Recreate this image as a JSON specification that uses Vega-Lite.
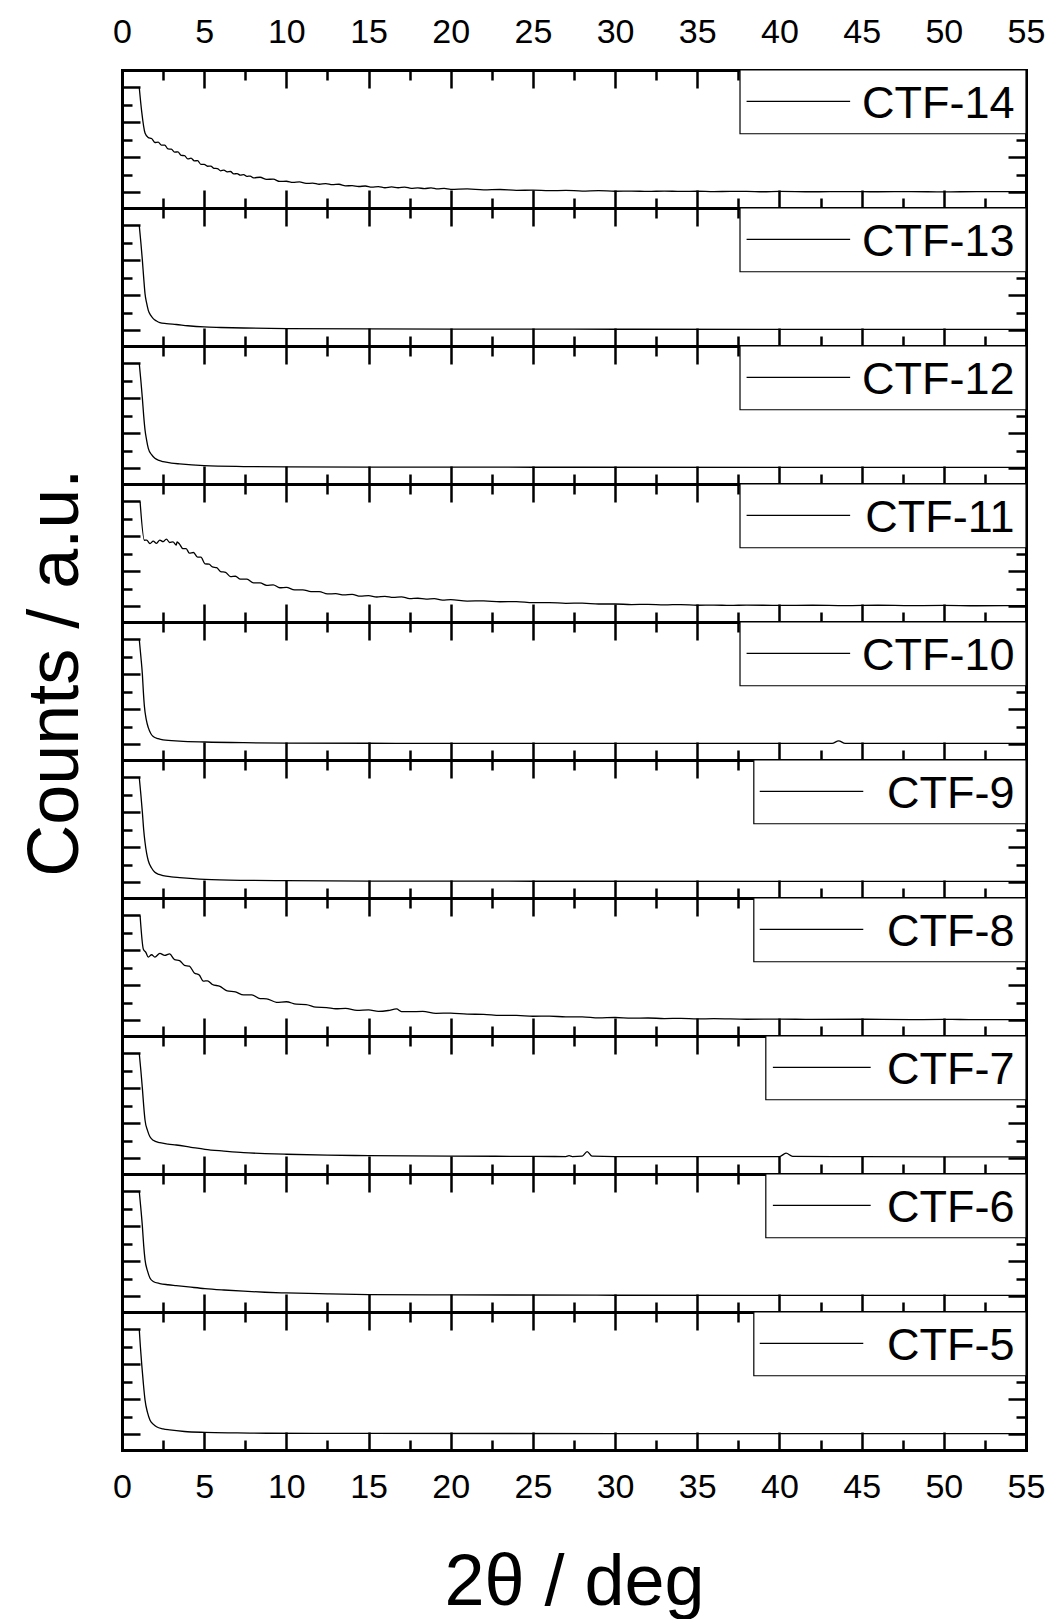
{
"$schema": "https://vega.github.io/schema/vega-lite/v6.json",
"background": "white",
"padding": {"left": 19, "top": 7, "right": 5, "bottom": 0},
"bounds": "flush",
"spacing": 0,
"title": {"text": "Counts / a.u.", "orient": "left", "anchor": "middle", "font": "Liberation Sans", "fontSize": 72, "fontWeight": "normal", "color": "black", "offset": 20, "dx": 140},
"datasets": {"xrd": [
{"s":"CTF-14","x":1.05,"y":6},{"s":"CTF-14","x":1.2,"y":4.6},{"s":"CTF-14","x":1.4,"y":3.39},{"s":"CTF-14","x":1.6,"y":3.13},{"s":"CTF-14","x":1.8,"y":3.08},{"s":"CTF-14","x":2.0,"y":2.85},{"s":"CTF-14","x":2.2,"y":2.87},{"s":"CTF-14","x":2.4,"y":2.70},{"s":"CTF-14","x":2.6,"y":2.70},{"s":"CTF-14","x":2.8,"y":2.48},{"s":"CTF-14","x":3.0,"y":2.47},{"s":"CTF-14","x":3.2,"y":2.30},{"s":"CTF-14","x":3.4,"y":2.31},{"s":"CTF-14","x":3.6,"y":2.11},{"s":"CTF-14","x":3.8,"y":2.10},{"s":"CTF-14","x":4.0,"y":1.91},{"s":"CTF-14","x":4.2,"y":1.95},{"s":"CTF-14","x":4.4,"y":1.80},{"s":"CTF-14","x":4.6,"y":1.81},{"s":"CTF-14","x":4.8,"y":1.60},{"s":"CTF-14","x":5.0,"y":1.60},{"s":"CTF-14","x":5.2,"y":1.49},{"s":"CTF-14","x":5.4,"y":1.50},{"s":"CTF-14","x":5.6,"y":1.37},{"s":"CTF-14","x":5.8,"y":1.36},{"s":"CTF-14","x":6.0,"y":1.23},{"s":"CTF-14","x":6.2,"y":1.27},{"s":"CTF-14","x":6.4,"y":1.17},{"s":"CTF-14","x":6.6,"y":1.19},{"s":"CTF-14","x":6.8,"y":1.05},{"s":"CTF-14","x":7.0,"y":1.07},{"s":"CTF-14","x":7.2,"y":0.98},{"s":"CTF-14","x":7.4,"y":1.01},{"s":"CTF-14","x":7.6,"y":0.91},{"s":"CTF-14","x":7.8,"y":0.93},{"s":"CTF-14","x":8.0,"y":0.83},{"s":"CTF-14","x":8.4,"y":0.86},{"s":"CTF-14","x":8.8,"y":0.74},{"s":"CTF-14","x":9.2,"y":0.75},{"s":"CTF-14","x":9.6,"y":0.62},{"s":"CTF-14","x":10.0,"y":0.63},{"s":"CTF-14","x":10.4,"y":0.57},{"s":"CTF-14","x":10.8,"y":0.59},{"s":"CTF-14","x":11.2,"y":0.51},{"s":"CTF-14","x":11.6,"y":0.52},{"s":"CTF-14","x":12.0,"y":0.46},{"s":"CTF-14","x":12.4,"y":0.50},{"s":"CTF-14","x":12.8,"y":0.44},{"s":"CTF-14","x":13.2,"y":0.46},{"s":"CTF-14","x":13.6,"y":0.37},{"s":"CTF-14","x":14.0,"y":0.38},{"s":"CTF-14","x":14.4,"y":0.33},{"s":"CTF-14","x":14.8,"y":0.36},{"s":"CTF-14","x":15.2,"y":0.30},{"s":"CTF-14","x":15.6,"y":0.32},{"s":"CTF-14","x":16.0,"y":0.26},{"s":"CTF-14","x":16.4,"y":0.31},{"s":"CTF-14","x":16.8,"y":0.26},{"s":"CTF-14","x":17.2,"y":0.30},{"s":"CTF-14","x":17.6,"y":0.22},{"s":"CTF-14","x":18.0,"y":0.25},{"s":"CTF-14","x":18.4,"y":0.21},{"s":"CTF-14","x":18.8,"y":0.25},{"s":"CTF-14","x":19.2,"y":0.19},{"s":"CTF-14","x":19.6,"y":0.22},{"s":"CTF-14","x":20,"y":0.17},{"s":"CTF-14","x":21,"y":0.19},{"s":"CTF-14","x":22,"y":0.14},{"s":"CTF-14","x":23,"y":0.16},{"s":"CTF-14","x":24,"y":0.11},{"s":"CTF-14","x":25,"y":0.12},{"s":"CTF-14","x":26,"y":0.09},{"s":"CTF-14","x":27,"y":0.11},{"s":"CTF-14","x":28,"y":0.07},{"s":"CTF-14","x":29,"y":0.09},{"s":"CTF-14","x":30,"y":0.06},{"s":"CTF-14","x":31,"y":0.07},{"s":"CTF-14","x":32,"y":0.05},{"s":"CTF-14","x":33,"y":0.07},{"s":"CTF-14","x":34,"y":0.05},{"s":"CTF-14","x":35,"y":0.06},{"s":"CTF-14","x":36,"y":0.04},{"s":"CTF-14","x":37,"y":0.05},{"s":"CTF-14","x":38,"y":0.05},{"s":"CTF-14","x":39,"y":0.03},{"s":"CTF-14","x":40,"y":0.05},{"s":"CTF-14","x":42,"y":0.03},{"s":"CTF-14","x":44,"y":0.04},{"s":"CTF-14","x":46,"y":0.03},{"s":"CTF-14","x":48,"y":0.04},{"s":"CTF-14","x":50,"y":0.02},{"s":"CTF-14","x":52,"y":0.04},{"s":"CTF-14","x":55,"y":0.03},
{"s":"CTF-13","x":1.05,"y":6},{"s":"CTF-13","x":1.15,"y":5.0},{"s":"CTF-13","x":1.24,"y":4.0},{"s":"CTF-13","x":1.32,"y":3.0},{"s":"CTF-13","x":1.4,"y":2.1},{"s":"CTF-13","x":1.5,"y":1.55},{"s":"CTF-13","x":1.6,"y":1.14},{"s":"CTF-13","x":1.75,"y":0.85},{"s":"CTF-13","x":1.9,"y":0.67},{"s":"CTF-13","x":2.1,"y":0.53},{"s":"CTF-13","x":2.3,"y":0.44},{"s":"CTF-13","x":2.7,"y":0.38},{"s":"CTF-13","x":3.3,"y":0.33},{"s":"CTF-13","x":4.0,"y":0.26},{"s":"CTF-13","x":5.0,"y":0.19},{"s":"CTF-13","x":6,"y":0.16},{"s":"CTF-13","x":7.4,"y":0.13},{"s":"CTF-13","x":10,"y":0.1},{"s":"CTF-13","x":15,"y":0.08},{"s":"CTF-13","x":20,"y":0.07},{"s":"CTF-13","x":30,"y":0.06},{"s":"CTF-13","x":40,"y":0.05},{"s":"CTF-13","x":55,"y":0.05},
{"s":"CTF-12","x":1.05,"y":6},{"s":"CTF-12","x":1.15,"y":5.0},{"s":"CTF-12","x":1.24,"y":4.0},{"s":"CTF-12","x":1.32,"y":3.0},{"s":"CTF-12","x":1.4,"y":2.2},{"s":"CTF-12","x":1.5,"y":1.6},{"s":"CTF-12","x":1.6,"y":1.14},{"s":"CTF-12","x":1.8,"y":0.78},{"s":"CTF-12","x":2.0,"y":0.57},{"s":"CTF-12","x":2.25,"y":0.45},{"s":"CTF-12","x":2.5,"y":0.38},{"s":"CTF-12","x":3.0,"y":0.3},{"s":"CTF-12","x":3.5,"y":0.25},{"s":"CTF-12","x":5,"y":0.15},{"s":"CTF-12","x":7.4,"y":0.1},{"s":"CTF-12","x":10,"y":0.08},{"s":"CTF-12","x":15,"y":0.07},{"s":"CTF-12","x":25,"y":0.06},{"s":"CTF-12","x":40,"y":0.05},{"s":"CTF-12","x":55,"y":0.05},
{"s":"CTF-11","x":1.1,"y":6},{"s":"CTF-11","x":1.36,"y":3.78},{"s":"CTF-11","x":1.5,"y":3.79},{"s":"CTF-11","x":1.7,"y":3.59},{"s":"CTF-11","x":1.9,"y":3.73},{"s":"CTF-11","x":2.1,"y":3.60},{"s":"CTF-11","x":2.3,"y":3.79},{"s":"CTF-11","x":2.5,"y":3.70},{"s":"CTF-11","x":2.7,"y":3.85},{"s":"CTF-11","x":2.9,"y":3.65},{"s":"CTF-11","x":3.1,"y":3.69},{"s":"CTF-11","x":3.3,"y":3.50},{"s":"CTF-11","x":3.35,"y":3.68},{"s":"CTF-11","x":3.5,"y":3.56},{"s":"CTF-11","x":3.7,"y":3.30},{"s":"CTF-11","x":3.9,"y":3.30},{"s":"CTF-11","x":4.1,"y":3.04},{"s":"CTF-11","x":4.35,"y":3.08},{"s":"CTF-11","x":4.6,"y":2.81},{"s":"CTF-11","x":4.8,"y":2.81},{"s":"CTF-11","x":5.05,"y":2.43},{"s":"CTF-11","x":5.3,"y":2.41},{"s":"CTF-11","x":5.5,"y":2.25},{"s":"CTF-11","x":5.76,"y":2.21},{"s":"CTF-11","x":6.0,"y":1.99},{"s":"CTF-11","x":6.3,"y":1.94},{"s":"CTF-11","x":6.6,"y":1.70},{"s":"CTF-11","x":6.9,"y":1.72},{"s":"CTF-11","x":7.2,"y":1.56},{"s":"CTF-11","x":7.6,"y":1.55},{"s":"CTF-11","x":8.0,"y":1.34},{"s":"CTF-11","x":8.4,"y":1.34},{"s":"CTF-11","x":8.8,"y":1.20},{"s":"CTF-11","x":9.2,"y":1.23},{"s":"CTF-11","x":9.6,"y":1.06},{"s":"CTF-11","x":10.0,"y":1.08},{"s":"CTF-11","x":10.5,"y":0.94},{"s":"CTF-11","x":11.0,"y":0.94},{"s":"CTF-11","x":11.5,"y":0.84},{"s":"CTF-11","x":12,"y":0.84},{"s":"CTF-11","x":12.5,"y":0.71},{"s":"CTF-11","x":13,"y":0.72},{"s":"CTF-11","x":13.5,"y":0.65},{"s":"CTF-11","x":14,"y":0.68},{"s":"CTF-11","x":14.5,"y":0.58},{"s":"CTF-11","x":15,"y":0.61},{"s":"CTF-11","x":15.5,"y":0.53},{"s":"CTF-11","x":16,"y":0.57},{"s":"CTF-11","x":16.5,"y":0.51},{"s":"CTF-11","x":17,"y":0.54},{"s":"CTF-11","x":17.5,"y":0.44},{"s":"CTF-11","x":18,"y":0.46},{"s":"CTF-11","x":18.5,"y":0.41},{"s":"CTF-11","x":19,"y":0.44},{"s":"CTF-11","x":19.5,"y":0.35},{"s":"CTF-11","x":20,"y":0.38},{"s":"CTF-11","x":21,"y":0.30},{"s":"CTF-11","x":22,"y":0.31},{"s":"CTF-11","x":23,"y":0.26},{"s":"CTF-11","x":24,"y":0.27},{"s":"CTF-11","x":25,"y":0.21},{"s":"CTF-11","x":26,"y":0.21},{"s":"CTF-11","x":27,"y":0.17},{"s":"CTF-11","x":28,"y":0.18},{"s":"CTF-11","x":29,"y":0.13},{"s":"CTF-11","x":30,"y":0.13},{"s":"CTF-11","x":31,"y":0.10},{"s":"CTF-11","x":32,"y":0.11},{"s":"CTF-11","x":33,"y":0.08},{"s":"CTF-11","x":34,"y":0.10},{"s":"CTF-11","x":35,"y":0.06},{"s":"CTF-11","x":36,"y":0.07},{"s":"CTF-11","x":37,"y":0.05},{"s":"CTF-11","x":38,"y":0.07},{"s":"CTF-11","x":40,"y":0.05},{"s":"CTF-11","x":42,"y":0.06},{"s":"CTF-11","x":44,"y":0.04},{"s":"CTF-11","x":46,"y":0.06},{"s":"CTF-11","x":48,"y":0.04},{"s":"CTF-11","x":50,"y":0.05},{"s":"CTF-11","x":52,"y":0.03},{"s":"CTF-11","x":55,"y":0.04},
{"s":"CTF-10","x":1.05,"y":6},{"s":"CTF-10","x":1.15,"y":5},{"s":"CTF-10","x":1.24,"y":4},{"s":"CTF-10","x":1.3,"y":3.0},{"s":"CTF-10","x":1.36,"y":2.2},{"s":"CTF-10","x":1.48,"y":1.4},{"s":"CTF-10","x":1.6,"y":0.95},{"s":"CTF-10","x":1.75,"y":0.62},{"s":"CTF-10","x":1.9,"y":0.44},{"s":"CTF-10","x":2.2,"y":0.32},{"s":"CTF-10","x":2.5,"y":0.25},{"s":"CTF-10","x":3.5,"y":0.18},{"s":"CTF-10","x":5.05,"y":0.13},{"s":"CTF-10","x":7.4,"y":0.09},{"s":"CTF-10","x":10,"y":0.07},{"s":"CTF-10","x":15,"y":0.06},{"s":"CTF-10","x":20,"y":0.05},{"s":"CTF-10","x":30,"y":0.05},{"s":"CTF-10","x":43.2,"y":0.05},{"s":"CTF-10","x":43.6,"y":0.2},{"s":"CTF-10","x":44.0,"y":0.05},{"s":"CTF-10","x":55,"y":0.05},
{"s":"CTF-9","x":1.05,"y":6},{"s":"CTF-9","x":1.15,"y":5},{"s":"CTF-9","x":1.24,"y":4},{"s":"CTF-9","x":1.32,"y":3.0},{"s":"CTF-9","x":1.4,"y":2.29},{"s":"CTF-9","x":1.5,"y":1.65},{"s":"CTF-9","x":1.6,"y":1.23},{"s":"CTF-9","x":1.8,"y":0.82},{"s":"CTF-9","x":2.0,"y":0.57},{"s":"CTF-9","x":2.25,"y":0.45},{"s":"CTF-9","x":2.5,"y":0.38},{"s":"CTF-9","x":3.0,"y":0.31},{"s":"CTF-9","x":3.5,"y":0.27},{"s":"CTF-9","x":5.05,"y":0.17},{"s":"CTF-9","x":7.4,"y":0.11},{"s":"CTF-9","x":10,"y":0.09},{"s":"CTF-9","x":15,"y":0.07},{"s":"CTF-9","x":25,"y":0.06},{"s":"CTF-9","x":40,"y":0.05},{"s":"CTF-9","x":55,"y":0.05},
{"s":"CTF-8","x":1.1,"y":6},{"s":"CTF-8","x":1.3,"y":4.07},{"s":"CTF-8","x":1.45,"y":3.89},{"s":"CTF-8","x":1.6,"y":3.62},{"s":"CTF-8","x":1.8,"y":3.75},{"s":"CTF-8","x":2.0,"y":3.62},{"s":"CTF-8","x":2.3,"y":3.83},{"s":"CTF-8","x":2.6,"y":3.71},{"s":"CTF-8","x":2.9,"y":3.80},{"s":"CTF-8","x":3.2,"y":3.47},{"s":"CTF-8","x":3.5,"y":3.42},{"s":"CTF-8","x":3.8,"y":3.14},{"s":"CTF-8","x":4.1,"y":3.10},{"s":"CTF-8","x":4.4,"y":2.71},{"s":"CTF-8","x":4.7,"y":2.59},{"s":"CTF-8","x":4.95,"y":2.24},{"s":"CTF-8","x":5.2,"y":2.26},{"s":"CTF-8","x":5.5,"y":2.05},{"s":"CTF-8","x":5.96,"y":1.94},{"s":"CTF-8","x":6.4,"y":1.68},{"s":"CTF-8","x":6.9,"y":1.62},{"s":"CTF-8","x":7.4,"y":1.45},{"s":"CTF-8","x":7.9,"y":1.45},{"s":"CTF-8","x":8.4,"y":1.24},{"s":"CTF-8","x":8.8,"y":1.23},{"s":"CTF-8","x":9.4,"y":1.03},{"s":"CTF-8","x":10.0,"y":1.06},{"s":"CTF-8","x":10.6,"y":0.92},{"s":"CTF-8","x":11.2,"y":0.90},{"s":"CTF-8","x":11.8,"y":0.75},{"s":"CTF-8","x":12.45,"y":0.73},{"s":"CTF-8","x":13,"y":0.66},{"s":"CTF-8","x":13.6,"y":0.68},{"s":"CTF-8","x":14.3,"y":0.57},{"s":"CTF-8","x":15,"y":0.59},{"s":"CTF-8","x":15.6,"y":0.51},{"s":"CTF-8","x":16.2,"y":0.56},{"s":"CTF-8","x":16.7,"y":0.65},{"s":"CTF-8","x":17.0,"y":0.50},{"s":"CTF-8","x":17.5,"y":0.49},{"s":"CTF-8","x":18.3,"y":0.51},{"s":"CTF-8","x":19.1,"y":0.40},{"s":"CTF-8","x":20,"y":0.41},{"s":"CTF-8","x":21,"y":0.35},{"s":"CTF-8","x":22,"y":0.34},{"s":"CTF-8","x":23,"y":0.28},{"s":"CTF-8","x":24,"y":0.28},{"s":"CTF-8","x":25,"y":0.23},{"s":"CTF-8","x":26,"y":0.24},{"s":"CTF-8","x":27,"y":0.19},{"s":"CTF-8","x":28,"y":0.20},{"s":"CTF-8","x":29,"y":0.14},{"s":"CTF-8","x":30,"y":0.16},{"s":"CTF-8","x":31,"y":0.12},{"s":"CTF-8","x":32,"y":0.13},{"s":"CTF-8","x":33,"y":0.10},{"s":"CTF-8","x":34,"y":0.11},{"s":"CTF-8","x":35,"y":0.08},{"s":"CTF-8","x":36,"y":0.09},{"s":"CTF-8","x":38,"y":0.06},{"s":"CTF-8","x":40,"y":0.07},{"s":"CTF-8","x":42,"y":0.05},{"s":"CTF-8","x":45,"y":0.06},{"s":"CTF-8","x":48,"y":0.04},{"s":"CTF-8","x":50,"y":0.05},{"s":"CTF-8","x":52,"y":0.04},{"s":"CTF-8","x":55,"y":0.04},
{"s":"CTF-7","x":1.05,"y":6},{"s":"CTF-7","x":1.15,"y":5},{"s":"CTF-7","x":1.24,"y":4},{"s":"CTF-7","x":1.32,"y":3.0},{"s":"CTF-7","x":1.4,"y":2.19},{"s":"CTF-7","x":1.55,"y":1.6},{"s":"CTF-7","x":1.7,"y":1.23},{"s":"CTF-7","x":1.9,"y":1.03},{"s":"CTF-7","x":2.3,"y":0.89},{"s":"CTF-7","x":2.8,"y":0.81},{"s":"CTF-7","x":3.3,"y":0.76},{"s":"CTF-7","x":4.2,"y":0.63},{"s":"CTF-7","x":5.05,"y":0.51},{"s":"CTF-7","x":6.2,"y":0.41},{"s":"CTF-7","x":7.4,"y":0.32},{"s":"CTF-7","x":8.7,"y":0.27},{"s":"CTF-7","x":10,"y":0.23},{"s":"CTF-7","x":12.5,"y":0.18},{"s":"CTF-7","x":15,"y":0.15},{"s":"CTF-7","x":20,"y":0.12},{"s":"CTF-7","x":25,"y":0.11},{"s":"CTF-7","x":27.0,"y":0.1},{"s":"CTF-7","x":27.2,"y":0.15},{"s":"CTF-7","x":27.4,"y":0.1},{"s":"CTF-7","x":28.0,"y":0.12},{"s":"CTF-7","x":28.3,"y":0.38},{"s":"CTF-7","x":28.6,"y":0.12},{"s":"CTF-7","x":30,"y":0.1},{"s":"CTF-7","x":35,"y":0.1},{"s":"CTF-7","x":40,"y":0.1},{"s":"CTF-7","x":40.4,"y":0.29},{"s":"CTF-7","x":40.8,"y":0.11},{"s":"CTF-7","x":45,"y":0.09},{"s":"CTF-7","x":50,"y":0.08},{"s":"CTF-7","x":55,"y":0.08},
{"s":"CTF-6","x":1.05,"y":6},{"s":"CTF-6","x":1.15,"y":5},{"s":"CTF-6","x":1.24,"y":4},{"s":"CTF-6","x":1.32,"y":2.9},{"s":"CTF-6","x":1.4,"y":2.1},{"s":"CTF-6","x":1.55,"y":1.45},{"s":"CTF-6","x":1.7,"y":1.05},{"s":"CTF-6","x":1.9,"y":0.85},{"s":"CTF-6","x":2.3,"y":0.73},{"s":"CTF-6","x":2.8,"y":0.66},{"s":"CTF-6","x":3.3,"y":0.61},{"s":"CTF-6","x":4.2,"y":0.52},{"s":"CTF-6","x":5.05,"y":0.44},{"s":"CTF-6","x":6.2,"y":0.36},{"s":"CTF-6","x":7.4,"y":0.29},{"s":"CTF-6","x":8.7,"y":0.23},{"s":"CTF-6","x":10,"y":0.19},{"s":"CTF-6","x":12.5,"y":0.14},{"s":"CTF-6","x":15,"y":0.1},{"s":"CTF-6","x":20,"y":0.08},{"s":"CTF-6","x":30,"y":0.06},{"s":"CTF-6","x":40,"y":0.05},{"s":"CTF-6","x":55,"y":0.05},
{"s":"CTF-5","x":1.05,"y":6},{"s":"CTF-5","x":1.12,"y":5},{"s":"CTF-5","x":1.2,"y":4},{"s":"CTF-5","x":1.3,"y":2.9},{"s":"CTF-5","x":1.4,"y":1.97},{"s":"CTF-5","x":1.55,"y":1.25},{"s":"CTF-5","x":1.7,"y":0.82},{"s":"CTF-5","x":1.9,"y":0.58},{"s":"CTF-5","x":2.1,"y":0.43},{"s":"CTF-5","x":2.5,"y":0.31},{"s":"CTF-5","x":2.9,"y":0.25},{"s":"CTF-5","x":3.8,"y":0.16},{"s":"CTF-5","x":5.05,"y":0.11},{"s":"CTF-5","x":7,"y":0.08},{"s":"CTF-5","x":8.8,"y":0.06},{"s":"CTF-5","x":15,"y":0.05},{"s":"CTF-5","x":30,"y":0.04},{"s":"CTF-5","x":55,"y":0.04}
]},
"vconcat": [
{"width":904,"height":138,"layer":[
 {"data":{"name":"xrd"},"transform":[{"filter":"datum.s === 'CTF-14'"}],"mark":{"type":"line","color":"black","strokeWidth":1.3,"clip":true,"interpolate":"monotone"},
  "encoding":{"x":{"field":"x","type":"quantitative","scale":{"domain":[0,55],"nice":false,"zero":false},"axis":{"orient":"bottom","values":[0,2.5,5,7.5,10,12.5,15,17.5,20,22.5,25,27.5,30,32.5,35,37.5,40,42.5,45,47.5,50,52.5,55],"labels":false,"title":null,"tickSize":{"condition":{"test":"datum.value % 5 === 0","value":-18},"value":-10}}},
   "y":{"field":"y","type":"quantitative","scale":{"domain":[-0.9,7],"nice":false,"zero":false},"axis":{"orient":"left","values":[0,1,2,3,4,5,6],"labels":false,"title":null,"tickSize":{"condition":{"test":"datum.value % 2 === 0","value":-18},"value":-10}}}}},
 {"data":{"name":"xrd"},"transform":[{"filter":"datum.s === 'CTF-14'"}],"mark":{"type":"line","opacity":0},
  "encoding":{"x":{"field":"x","type":"quantitative","axis":{"orient":"top","values":[0,2.5,5,7.5,10,12.5,15,17.5,20,22.5,25,27.5,30,32.5,35,37.5,40,42.5,45,47.5,50,52.5,55],"labels":true,"labelExpr":"datum.value % 5 === 0 ? datum.label : ''","title":null,"tickSize":{"condition":{"test":"datum.value % 5 === 0","value":-18},"value":-10}}},
   "y":{"field":"y","type":"quantitative","axis":{"orient":"right","values":[0,1,2,3,4,5,6],"labels":false,"title":null,"tickSize":{"condition":{"test":"datum.value % 2 === 0","value":-18},"value":-10}}}}},
 {"data":{"values":[{"s":"CTF-14"}]},"layer":[
  {"mark":{"type":"rect","fill":"white","stroke":"black","strokeWidth":1.2},"encoding":{"x":{"datum":37.6,"type":"quantitative","axis":null},"x2":{"datum":55},"y":{"datum":7,"type":"quantitative","axis":null},"y2":{"datum":3.35}}},
  {"mark":{"type":"rule","color":"black","strokeWidth":1.2},"encoding":{"x":{"datum":38.0,"type":"quantitative","axis":null},"x2":{"datum":44.3},"y":{"datum":5.2,"type":"quantitative","axis":null}}},
  {"mark":{"type":"text","align":"right","baseline":"alphabetic","fontSize":45,"font":"Liberation Sans","color":"black"},"encoding":{"x":{"datum":54.3,"type":"quantitative","axis":null},"y":{"datum":4.28,"type":"quantitative","axis":null},"text":{"field":"s"}}}
 ]}
],"resolve":{"axis":{"x":"independent","y":"independent"}}},
{"width":904,"height":138,"layer":[
 {"data":{"name":"xrd"},"transform":[{"filter":"datum.s === 'CTF-13'"}],"mark":{"type":"line","color":"black","strokeWidth":1.3,"clip":true,"interpolate":"monotone"},
  "encoding":{"x":{"field":"x","type":"quantitative","scale":{"domain":[0,55],"nice":false,"zero":false},"axis":{"orient":"bottom","values":[0,2.5,5,7.5,10,12.5,15,17.5,20,22.5,25,27.5,30,32.5,35,37.5,40,42.5,45,47.5,50,52.5,55],"labels":false,"title":null,"tickSize":{"condition":{"test":"datum.value % 5 === 0","value":-18},"value":-10}}},
   "y":{"field":"y","type":"quantitative","scale":{"domain":[-0.9,7],"nice":false,"zero":false},"axis":{"orient":"left","values":[0,1,2,3,4,5,6],"labels":false,"title":null,"tickSize":{"condition":{"test":"datum.value % 2 === 0","value":-18},"value":-10}}}}},
 {"data":{"name":"xrd"},"transform":[{"filter":"datum.s === 'CTF-13'"}],"mark":{"type":"line","opacity":0},
  "encoding":{"x":{"field":"x","type":"quantitative","axis":{"orient":"top","values":[0,2.5,5,7.5,10,12.5,15,17.5,20,22.5,25,27.5,30,32.5,35,37.5,40,42.5,45,47.5,50,52.5,55],"labels":false,"title":null,"tickSize":{"condition":{"test":"datum.value % 5 === 0","value":-18},"value":-10}}},
   "y":{"field":"y","type":"quantitative","axis":{"orient":"right","values":[0,1,2,3,4,5,6],"labels":false,"title":null,"tickSize":{"condition":{"test":"datum.value % 2 === 0","value":-18},"value":-10}}}}},
 {"data":{"values":[{"s":"CTF-13"}]},"layer":[
  {"mark":{"type":"rect","fill":"white","stroke":"black","strokeWidth":1.2},"encoding":{"x":{"datum":37.6,"type":"quantitative","axis":null},"x2":{"datum":55},"y":{"datum":7,"type":"quantitative","axis":null},"y2":{"datum":3.35}}},
  {"mark":{"type":"rule","color":"black","strokeWidth":1.2},"encoding":{"x":{"datum":38.0,"type":"quantitative","axis":null},"x2":{"datum":44.3},"y":{"datum":5.2,"type":"quantitative","axis":null}}},
  {"mark":{"type":"text","align":"right","baseline":"alphabetic","fontSize":45,"font":"Liberation Sans","color":"black"},"encoding":{"x":{"datum":54.3,"type":"quantitative","axis":null},"y":{"datum":4.28,"type":"quantitative","axis":null},"text":{"field":"s"}}}
 ]}
],"resolve":{"axis":{"x":"independent","y":"independent"}}},
{"width":904,"height":138,"layer":[
 {"data":{"name":"xrd"},"transform":[{"filter":"datum.s === 'CTF-12'"}],"mark":{"type":"line","color":"black","strokeWidth":1.3,"clip":true,"interpolate":"monotone"},
  "encoding":{"x":{"field":"x","type":"quantitative","scale":{"domain":[0,55],"nice":false,"zero":false},"axis":{"orient":"bottom","values":[0,2.5,5,7.5,10,12.5,15,17.5,20,22.5,25,27.5,30,32.5,35,37.5,40,42.5,45,47.5,50,52.5,55],"labels":false,"title":null,"tickSize":{"condition":{"test":"datum.value % 5 === 0","value":-18},"value":-10}}},
   "y":{"field":"y","type":"quantitative","scale":{"domain":[-0.9,7],"nice":false,"zero":false},"axis":{"orient":"left","values":[0,1,2,3,4,5,6],"labels":false,"title":null,"tickSize":{"condition":{"test":"datum.value % 2 === 0","value":-18},"value":-10}}}}},
 {"data":{"name":"xrd"},"transform":[{"filter":"datum.s === 'CTF-12'"}],"mark":{"type":"line","opacity":0},
  "encoding":{"x":{"field":"x","type":"quantitative","axis":{"orient":"top","values":[0,2.5,5,7.5,10,12.5,15,17.5,20,22.5,25,27.5,30,32.5,35,37.5,40,42.5,45,47.5,50,52.5,55],"labels":false,"title":null,"tickSize":{"condition":{"test":"datum.value % 5 === 0","value":-18},"value":-10}}},
   "y":{"field":"y","type":"quantitative","axis":{"orient":"right","values":[0,1,2,3,4,5,6],"labels":false,"title":null,"tickSize":{"condition":{"test":"datum.value % 2 === 0","value":-18},"value":-10}}}}},
 {"data":{"values":[{"s":"CTF-12"}]},"layer":[
  {"mark":{"type":"rect","fill":"white","stroke":"black","strokeWidth":1.2},"encoding":{"x":{"datum":37.6,"type":"quantitative","axis":null},"x2":{"datum":55},"y":{"datum":7,"type":"quantitative","axis":null},"y2":{"datum":3.35}}},
  {"mark":{"type":"rule","color":"black","strokeWidth":1.2},"encoding":{"x":{"datum":38.0,"type":"quantitative","axis":null},"x2":{"datum":44.3},"y":{"datum":5.2,"type":"quantitative","axis":null}}},
  {"mark":{"type":"text","align":"right","baseline":"alphabetic","fontSize":45,"font":"Liberation Sans","color":"black"},"encoding":{"x":{"datum":54.3,"type":"quantitative","axis":null},"y":{"datum":4.28,"type":"quantitative","axis":null},"text":{"field":"s"}}}
 ]}
],"resolve":{"axis":{"x":"independent","y":"independent"}}},
{"width":904,"height":138,"layer":[
 {"data":{"name":"xrd"},"transform":[{"filter":"datum.s === 'CTF-11'"}],"mark":{"type":"line","color":"black","strokeWidth":1.3,"clip":true,"interpolate":"monotone"},
  "encoding":{"x":{"field":"x","type":"quantitative","scale":{"domain":[0,55],"nice":false,"zero":false},"axis":{"orient":"bottom","values":[0,2.5,5,7.5,10,12.5,15,17.5,20,22.5,25,27.5,30,32.5,35,37.5,40,42.5,45,47.5,50,52.5,55],"labels":false,"title":null,"tickSize":{"condition":{"test":"datum.value % 5 === 0","value":-18},"value":-10}}},
   "y":{"field":"y","type":"quantitative","scale":{"domain":[-0.9,7],"nice":false,"zero":false},"axis":{"orient":"left","values":[0,1,2,3,4,5,6],"labels":false,"title":null,"tickSize":{"condition":{"test":"datum.value % 2 === 0","value":-18},"value":-10}}}}},
 {"data":{"name":"xrd"},"transform":[{"filter":"datum.s === 'CTF-11'"}],"mark":{"type":"line","opacity":0},
  "encoding":{"x":{"field":"x","type":"quantitative","axis":{"orient":"top","values":[0,2.5,5,7.5,10,12.5,15,17.5,20,22.5,25,27.5,30,32.5,35,37.5,40,42.5,45,47.5,50,52.5,55],"labels":false,"title":null,"tickSize":{"condition":{"test":"datum.value % 5 === 0","value":-18},"value":-10}}},
   "y":{"field":"y","type":"quantitative","axis":{"orient":"right","values":[0,1,2,3,4,5,6],"labels":false,"title":null,"tickSize":{"condition":{"test":"datum.value % 2 === 0","value":-18},"value":-10}}}}},
 {"data":{"values":[{"s":"CTF-11"}]},"layer":[
  {"mark":{"type":"rect","fill":"white","stroke":"black","strokeWidth":1.2},"encoding":{"x":{"datum":37.6,"type":"quantitative","axis":null},"x2":{"datum":55},"y":{"datum":7,"type":"quantitative","axis":null},"y2":{"datum":3.35}}},
  {"mark":{"type":"rule","color":"black","strokeWidth":1.2},"encoding":{"x":{"datum":38.0,"type":"quantitative","axis":null},"x2":{"datum":44.3},"y":{"datum":5.2,"type":"quantitative","axis":null}}},
  {"mark":{"type":"text","align":"right","baseline":"alphabetic","fontSize":45,"font":"Liberation Sans","color":"black"},"encoding":{"x":{"datum":54.3,"type":"quantitative","axis":null},"y":{"datum":4.28,"type":"quantitative","axis":null},"text":{"field":"s"}}}
 ]}
],"resolve":{"axis":{"x":"independent","y":"independent"}}},
{"width":904,"height":138,"layer":[
 {"data":{"name":"xrd"},"transform":[{"filter":"datum.s === 'CTF-10'"}],"mark":{"type":"line","color":"black","strokeWidth":1.3,"clip":true,"interpolate":"monotone"},
  "encoding":{"x":{"field":"x","type":"quantitative","scale":{"domain":[0,55],"nice":false,"zero":false},"axis":{"orient":"bottom","values":[0,2.5,5,7.5,10,12.5,15,17.5,20,22.5,25,27.5,30,32.5,35,37.5,40,42.5,45,47.5,50,52.5,55],"labels":false,"title":null,"tickSize":{"condition":{"test":"datum.value % 5 === 0","value":-18},"value":-10}}},
   "y":{"field":"y","type":"quantitative","scale":{"domain":[-0.9,7],"nice":false,"zero":false},"axis":{"orient":"left","values":[0,1,2,3,4,5,6],"labels":false,"title":null,"tickSize":{"condition":{"test":"datum.value % 2 === 0","value":-18},"value":-10}}}}},
 {"data":{"name":"xrd"},"transform":[{"filter":"datum.s === 'CTF-10'"}],"mark":{"type":"line","opacity":0},
  "encoding":{"x":{"field":"x","type":"quantitative","axis":{"orient":"top","values":[0,2.5,5,7.5,10,12.5,15,17.5,20,22.5,25,27.5,30,32.5,35,37.5,40,42.5,45,47.5,50,52.5,55],"labels":false,"title":null,"tickSize":{"condition":{"test":"datum.value % 5 === 0","value":-18},"value":-10}}},
   "y":{"field":"y","type":"quantitative","axis":{"orient":"right","values":[0,1,2,3,4,5,6],"labels":false,"title":null,"tickSize":{"condition":{"test":"datum.value % 2 === 0","value":-18},"value":-10}}}}},
 {"data":{"values":[{"s":"CTF-10"}]},"layer":[
  {"mark":{"type":"rect","fill":"white","stroke":"black","strokeWidth":1.2},"encoding":{"x":{"datum":37.6,"type":"quantitative","axis":null},"x2":{"datum":55},"y":{"datum":7,"type":"quantitative","axis":null},"y2":{"datum":3.35}}},
  {"mark":{"type":"rule","color":"black","strokeWidth":1.2},"encoding":{"x":{"datum":38.0,"type":"quantitative","axis":null},"x2":{"datum":44.3},"y":{"datum":5.2,"type":"quantitative","axis":null}}},
  {"mark":{"type":"text","align":"right","baseline":"alphabetic","fontSize":45,"font":"Liberation Sans","color":"black"},"encoding":{"x":{"datum":54.3,"type":"quantitative","axis":null},"y":{"datum":4.28,"type":"quantitative","axis":null},"text":{"field":"s"}}}
 ]}
],"resolve":{"axis":{"x":"independent","y":"independent"}}},
{"width":904,"height":138,"layer":[
 {"data":{"name":"xrd"},"transform":[{"filter":"datum.s === 'CTF-9'"}],"mark":{"type":"line","color":"black","strokeWidth":1.3,"clip":true,"interpolate":"monotone"},
  "encoding":{"x":{"field":"x","type":"quantitative","scale":{"domain":[0,55],"nice":false,"zero":false},"axis":{"orient":"bottom","values":[0,2.5,5,7.5,10,12.5,15,17.5,20,22.5,25,27.5,30,32.5,35,37.5,40,42.5,45,47.5,50,52.5,55],"labels":false,"title":null,"tickSize":{"condition":{"test":"datum.value % 5 === 0","value":-18},"value":-10}}},
   "y":{"field":"y","type":"quantitative","scale":{"domain":[-0.9,7],"nice":false,"zero":false},"axis":{"orient":"left","values":[0,1,2,3,4,5,6],"labels":false,"title":null,"tickSize":{"condition":{"test":"datum.value % 2 === 0","value":-18},"value":-10}}}}},
 {"data":{"name":"xrd"},"transform":[{"filter":"datum.s === 'CTF-9'"}],"mark":{"type":"line","opacity":0},
  "encoding":{"x":{"field":"x","type":"quantitative","axis":{"orient":"top","values":[0,2.5,5,7.5,10,12.5,15,17.5,20,22.5,25,27.5,30,32.5,35,37.5,40,42.5,45,47.5,50,52.5,55],"labels":false,"title":null,"tickSize":{"condition":{"test":"datum.value % 5 === 0","value":-18},"value":-10}}},
   "y":{"field":"y","type":"quantitative","axis":{"orient":"right","values":[0,1,2,3,4,5,6],"labels":false,"title":null,"tickSize":{"condition":{"test":"datum.value % 2 === 0","value":-18},"value":-10}}}}},
 {"data":{"values":[{"s":"CTF-9"}]},"layer":[
  {"mark":{"type":"rect","fill":"white","stroke":"black","strokeWidth":1.2},"encoding":{"x":{"datum":38.44,"type":"quantitative","axis":null},"x2":{"datum":55},"y":{"datum":7,"type":"quantitative","axis":null},"y2":{"datum":3.35}}},
  {"mark":{"type":"rule","color":"black","strokeWidth":1.2},"encoding":{"x":{"datum":38.8,"type":"quantitative","axis":null},"x2":{"datum":45.1},"y":{"datum":5.2,"type":"quantitative","axis":null}}},
  {"mark":{"type":"text","align":"right","baseline":"alphabetic","fontSize":45,"font":"Liberation Sans","color":"black"},"encoding":{"x":{"datum":54.3,"type":"quantitative","axis":null},"y":{"datum":4.28,"type":"quantitative","axis":null},"text":{"field":"s"}}}
 ]}
],"resolve":{"axis":{"x":"independent","y":"independent"}}},
{"width":904,"height":138,"layer":[
 {"data":{"name":"xrd"},"transform":[{"filter":"datum.s === 'CTF-8'"}],"mark":{"type":"line","color":"black","strokeWidth":1.3,"clip":true,"interpolate":"monotone"},
  "encoding":{"x":{"field":"x","type":"quantitative","scale":{"domain":[0,55],"nice":false,"zero":false},"axis":{"orient":"bottom","values":[0,2.5,5,7.5,10,12.5,15,17.5,20,22.5,25,27.5,30,32.5,35,37.5,40,42.5,45,47.5,50,52.5,55],"labels":false,"title":null,"tickSize":{"condition":{"test":"datum.value % 5 === 0","value":-18},"value":-10}}},
   "y":{"field":"y","type":"quantitative","scale":{"domain":[-0.9,7],"nice":false,"zero":false},"axis":{"orient":"left","values":[0,1,2,3,4,5,6],"labels":false,"title":null,"tickSize":{"condition":{"test":"datum.value % 2 === 0","value":-18},"value":-10}}}}},
 {"data":{"name":"xrd"},"transform":[{"filter":"datum.s === 'CTF-8'"}],"mark":{"type":"line","opacity":0},
  "encoding":{"x":{"field":"x","type":"quantitative","axis":{"orient":"top","values":[0,2.5,5,7.5,10,12.5,15,17.5,20,22.5,25,27.5,30,32.5,35,37.5,40,42.5,45,47.5,50,52.5,55],"labels":false,"title":null,"tickSize":{"condition":{"test":"datum.value % 5 === 0","value":-18},"value":-10}}},
   "y":{"field":"y","type":"quantitative","axis":{"orient":"right","values":[0,1,2,3,4,5,6],"labels":false,"title":null,"tickSize":{"condition":{"test":"datum.value % 2 === 0","value":-18},"value":-10}}}}},
 {"data":{"values":[{"s":"CTF-8"}]},"layer":[
  {"mark":{"type":"rect","fill":"white","stroke":"black","strokeWidth":1.2},"encoding":{"x":{"datum":38.44,"type":"quantitative","axis":null},"x2":{"datum":55},"y":{"datum":7,"type":"quantitative","axis":null},"y2":{"datum":3.35}}},
  {"mark":{"type":"rule","color":"black","strokeWidth":1.2},"encoding":{"x":{"datum":38.8,"type":"quantitative","axis":null},"x2":{"datum":45.1},"y":{"datum":5.2,"type":"quantitative","axis":null}}},
  {"mark":{"type":"text","align":"right","baseline":"alphabetic","fontSize":45,"font":"Liberation Sans","color":"black"},"encoding":{"x":{"datum":54.3,"type":"quantitative","axis":null},"y":{"datum":4.28,"type":"quantitative","axis":null},"text":{"field":"s"}}}
 ]}
],"resolve":{"axis":{"x":"independent","y":"independent"}}},
{"width":904,"height":138,"layer":[
 {"data":{"name":"xrd"},"transform":[{"filter":"datum.s === 'CTF-7'"}],"mark":{"type":"line","color":"black","strokeWidth":1.3,"clip":true,"interpolate":"monotone"},
  "encoding":{"x":{"field":"x","type":"quantitative","scale":{"domain":[0,55],"nice":false,"zero":false},"axis":{"orient":"bottom","values":[0,2.5,5,7.5,10,12.5,15,17.5,20,22.5,25,27.5,30,32.5,35,37.5,40,42.5,45,47.5,50,52.5,55],"labels":false,"title":null,"tickSize":{"condition":{"test":"datum.value % 5 === 0","value":-18},"value":-10}}},
   "y":{"field":"y","type":"quantitative","scale":{"domain":[-0.9,7],"nice":false,"zero":false},"axis":{"orient":"left","values":[0,1,2,3,4,5,6],"labels":false,"title":null,"tickSize":{"condition":{"test":"datum.value % 2 === 0","value":-18},"value":-10}}}}},
 {"data":{"name":"xrd"},"transform":[{"filter":"datum.s === 'CTF-7'"}],"mark":{"type":"line","opacity":0},
  "encoding":{"x":{"field":"x","type":"quantitative","axis":{"orient":"top","values":[0,2.5,5,7.5,10,12.5,15,17.5,20,22.5,25,27.5,30,32.5,35,37.5,40,42.5,45,47.5,50,52.5,55],"labels":false,"title":null,"tickSize":{"condition":{"test":"datum.value % 5 === 0","value":-18},"value":-10}}},
   "y":{"field":"y","type":"quantitative","axis":{"orient":"right","values":[0,1,2,3,4,5,6],"labels":false,"title":null,"tickSize":{"condition":{"test":"datum.value % 2 === 0","value":-18},"value":-10}}}}},
 {"data":{"values":[{"s":"CTF-7"}]},"layer":[
  {"mark":{"type":"rect","fill":"white","stroke":"black","strokeWidth":1.2},"encoding":{"x":{"datum":39.17,"type":"quantitative","axis":null},"x2":{"datum":55},"y":{"datum":7,"type":"quantitative","axis":null},"y2":{"datum":3.35}}},
  {"mark":{"type":"rule","color":"black","strokeWidth":1.2},"encoding":{"x":{"datum":39.6,"type":"quantitative","axis":null},"x2":{"datum":45.55},"y":{"datum":5.2,"type":"quantitative","axis":null}}},
  {"mark":{"type":"text","align":"right","baseline":"alphabetic","fontSize":45,"font":"Liberation Sans","color":"black"},"encoding":{"x":{"datum":54.3,"type":"quantitative","axis":null},"y":{"datum":4.28,"type":"quantitative","axis":null},"text":{"field":"s"}}}
 ]}
],"resolve":{"axis":{"x":"independent","y":"independent"}}},
{"width":904,"height":138,"layer":[
 {"data":{"name":"xrd"},"transform":[{"filter":"datum.s === 'CTF-6'"}],"mark":{"type":"line","color":"black","strokeWidth":1.3,"clip":true,"interpolate":"monotone"},
  "encoding":{"x":{"field":"x","type":"quantitative","scale":{"domain":[0,55],"nice":false,"zero":false},"axis":{"orient":"bottom","values":[0,2.5,5,7.5,10,12.5,15,17.5,20,22.5,25,27.5,30,32.5,35,37.5,40,42.5,45,47.5,50,52.5,55],"labels":false,"title":null,"tickSize":{"condition":{"test":"datum.value % 5 === 0","value":-18},"value":-10}}},
   "y":{"field":"y","type":"quantitative","scale":{"domain":[-0.9,7],"nice":false,"zero":false},"axis":{"orient":"left","values":[0,1,2,3,4,5,6],"labels":false,"title":null,"tickSize":{"condition":{"test":"datum.value % 2 === 0","value":-18},"value":-10}}}}},
 {"data":{"name":"xrd"},"transform":[{"filter":"datum.s === 'CTF-6'"}],"mark":{"type":"line","opacity":0},
  "encoding":{"x":{"field":"x","type":"quantitative","axis":{"orient":"top","values":[0,2.5,5,7.5,10,12.5,15,17.5,20,22.5,25,27.5,30,32.5,35,37.5,40,42.5,45,47.5,50,52.5,55],"labels":false,"title":null,"tickSize":{"condition":{"test":"datum.value % 5 === 0","value":-18},"value":-10}}},
   "y":{"field":"y","type":"quantitative","axis":{"orient":"right","values":[0,1,2,3,4,5,6],"labels":false,"title":null,"tickSize":{"condition":{"test":"datum.value % 2 === 0","value":-18},"value":-10}}}}},
 {"data":{"values":[{"s":"CTF-6"}]},"layer":[
  {"mark":{"type":"rect","fill":"white","stroke":"black","strokeWidth":1.2},"encoding":{"x":{"datum":39.17,"type":"quantitative","axis":null},"x2":{"datum":55},"y":{"datum":7,"type":"quantitative","axis":null},"y2":{"datum":3.35}}},
  {"mark":{"type":"rule","color":"black","strokeWidth":1.2},"encoding":{"x":{"datum":39.6,"type":"quantitative","axis":null},"x2":{"datum":45.55},"y":{"datum":5.2,"type":"quantitative","axis":null}}},
  {"mark":{"type":"text","align":"right","baseline":"alphabetic","fontSize":45,"font":"Liberation Sans","color":"black"},"encoding":{"x":{"datum":54.3,"type":"quantitative","axis":null},"y":{"datum":4.28,"type":"quantitative","axis":null},"text":{"field":"s"}}}
 ]}
],"resolve":{"axis":{"x":"independent","y":"independent"}}},
{"width":904,"height":138,"layer":[
 {"data":{"name":"xrd"},"transform":[{"filter":"datum.s === 'CTF-5'"}],"mark":{"type":"line","color":"black","strokeWidth":1.3,"clip":true,"interpolate":"monotone"},
  "encoding":{"x":{"field":"x","type":"quantitative","scale":{"domain":[0,55],"nice":false,"zero":false},"axis":{"orient":"bottom","values":[0,2.5,5,7.5,10,12.5,15,17.5,20,22.5,25,27.5,30,32.5,35,37.5,40,42.5,45,47.5,50,52.5,55],"labels":true,"labelExpr":"datum.value % 5 === 0 ? datum.label : ''","title":"2θ / deg","titleFontSize":72,"titlePadding":34.5,"tickSize":{"condition":{"test":"datum.value % 5 === 0","value":-18},"value":-10}}},
   "y":{"field":"y","type":"quantitative","scale":{"domain":[-0.9,7],"nice":false,"zero":false},"axis":{"orient":"left","values":[0,1,2,3,4,5,6],"labels":false,"title":null,"tickSize":{"condition":{"test":"datum.value % 2 === 0","value":-18},"value":-10}}}}},
 {"data":{"name":"xrd"},"transform":[{"filter":"datum.s === 'CTF-5'"}],"mark":{"type":"line","opacity":0},
  "encoding":{"x":{"field":"x","type":"quantitative","axis":{"orient":"top","values":[0,2.5,5,7.5,10,12.5,15,17.5,20,22.5,25,27.5,30,32.5,35,37.5,40,42.5,45,47.5,50,52.5,55],"labels":false,"title":null,"tickSize":{"condition":{"test":"datum.value % 5 === 0","value":-18},"value":-10}}},
   "y":{"field":"y","type":"quantitative","axis":{"orient":"right","values":[0,1,2,3,4,5,6],"labels":false,"title":null,"tickSize":{"condition":{"test":"datum.value % 2 === 0","value":-18},"value":-10}}}}},
 {"data":{"values":[{"s":"CTF-5"}]},"layer":[
  {"mark":{"type":"rect","fill":"white","stroke":"black","strokeWidth":1.2},"encoding":{"x":{"datum":38.44,"type":"quantitative","axis":null},"x2":{"datum":55},"y":{"datum":7,"type":"quantitative","axis":null},"y2":{"datum":3.35}}},
  {"mark":{"type":"rule","color":"black","strokeWidth":1.2},"encoding":{"x":{"datum":38.8,"type":"quantitative","axis":null},"x2":{"datum":45.1},"y":{"datum":5.2,"type":"quantitative","axis":null}}},
  {"mark":{"type":"text","align":"right","baseline":"alphabetic","fontSize":45,"font":"Liberation Sans","color":"black"},"encoding":{"x":{"datum":54.3,"type":"quantitative","axis":null},"y":{"datum":4.28,"type":"quantitative","axis":null},"text":{"field":"s"}}}
 ]}
],"resolve":{"axis":{"x":"independent","y":"independent"}}}
],
"config": {
 "view": {"stroke": null},
 "axis": {"domainColor": "black", "domainWidth": 3, "domainCap": "square", "tickColor": "black", "tickWidth": 2.5, "grid": false, "labelFont": "Liberation Sans", "labelFontSize": 34, "labelColor": "black", "labelPadding": 38.7, "labelFlush": false, "labelOverlap": false, "titleFont": "Liberation Sans", "titleFontWeight": "normal", "titleColor": "black"}
}
}
